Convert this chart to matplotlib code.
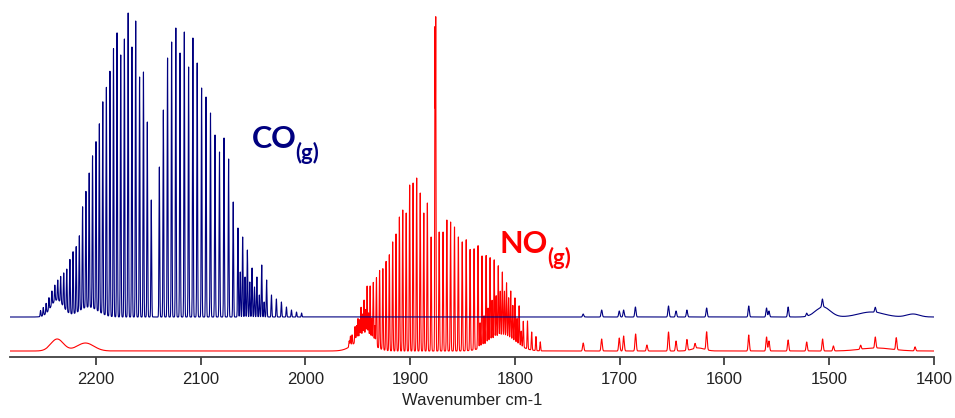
import matplotlib
matplotlib.use("Agg")
import matplotlib.pyplot as plt
import numpy as np

# ---- data (wavenumber cm-1, height above trace baseline) ----
CO_BASE = 40.0
NO_BASE = 6.0

co_r_pos = [2147.1, 2150.9, 2154.6, 2158.3, 2162.0, 2165.6, 2169.2, 2172.8, 2176.3,
            2179.8, 2183.2, 2186.6, 2190.0, 2193.4, 2196.7, 2199.9, 2203.2, 2206.4,
            2209.5, 2212.7, 2215.8, 2218.8, 2221.8, 2224.8, 2227.8, 2230.7, 2233.6,
            2236.4, 2239.2, 2242.0, 2244.8, 2247.5, 2250.2, 2252.8]
co_r_h = [117, 195, 245, 240, 296, 270, 304, 278, 262,
          284, 268, 245, 228, 212, 188, 168, 152, 134,
          116, 102, 75, 66, 62, 54, 42, 34, 26,
          20, 16, 14, 12, 10, 8, 6]

co_p_pos = [2139.4, 2135.6, 2131.6, 2127.7, 2123.7, 2119.7, 2115.6, 2111.5, 2107.4,
            2103.3, 2099.1, 2094.9, 2090.6, 2086.3, 2082.0, 2077.7, 2073.3, 2068.9,
            2064.4, 2059.9, 2055.4, 2050.9, 2046.3, 2041.7, 2037.0, 2032.4, 2027.7,
            2022.9, 2018.1, 2013.3, 2008.5, 2003.6]
co_p_h = [150, 207, 259, 275, 289, 264, 285, 250, 279,
          254, 229, 220, 204, 182, 165, 179, 158, 115,
          89, 80, 67, 49, 40, 52, 37, 22, 18,
          15, 10, 7, 5, 4]

co_hot_pos = [2062.2, 2057.6, 2053.1, 2048.6, 2044.0, 2039.4]
co_hot_h = [45, 40, 35, 30, 22, 15]

# broad background humps (centre, height, width)
co_hump_pos = [2237.0, 2207.0, 1506.0, 1460.0, 1420.0]
co_hump_h = [17, 10, 10, 5, 3]
co_hump_w = [6, 9, 7, 12, 6]

co_small_pos = [1734.8, 1717.2, 1700.4, 1696.2, 1685.0, 1653.4, 1646.2, 1635.8,
                1617.0, 1576.8, 1559.8, 1557.5, 1539.2, 1521.5, 1506.5, 1456.0]
co_small_h = [3, 7, 6, 7, 10, 11, 6, 7, 9, 11, 9, 6, 10, 3, 8, 5]

no_q_pos = [1876.3, 1875.6]
no_q_h = [318, 328]

no_r_pos = [1880.0, 1883.6, 1887.0, 1890.4, 1893.8, 1897.2, 1900.5, 1903.8, 1907.1,
            1910.3, 1913.5, 1916.7, 1919.9, 1923.0, 1926.1, 1929.2, 1932.2, 1935.2,
            1938.2, 1941.1, 1944.0, 1946.9, 1949.8, 1952.6, 1955.4, 1958.2]
no_r_h = [114, 148, 138, 158, 173, 168, 166, 138, 141,
          134, 117, 109, 96, 89, 81, 78, 69, 62,
          56, 54, 39, 32, 22, 16, 10, 6]

no_p_pos = [1872.3, 1868.6, 1865.0, 1861.4, 1857.7, 1854.0, 1850.3, 1846.5, 1842.8,
            1839.0, 1835.2, 1831.4, 1827.5, 1823.7, 1819.8, 1815.9, 1812.0, 1808.0,
            1804.0, 1800.0, 1796.0, 1792.0, 1788.0, 1784.0, 1779.9, 1775.8]
no_p_h = [119, 119, 131, 129, 124, 114, 109, 111, 101,
          101, 103, 91, 89, 84, 79, 71, 64, 54,
          48, 44, 39, 26, 28, 18, 14, 9]

no_hot_pos = [1833.3, 1829.5, 1825.6, 1821.8, 1817.9, 1814.0, 1810.0, 1806.0, 1802.0,
              1798.0, 1794.0, 1957.0, 1951.2, 1948.3, 1945.4, 1942.5, 1939.7, 1936.7, 1933.7]
no_hot_h = [25, 30, 35, 40, 42, 45, 45, 40, 35,
            25, 15, 10, 16, 20, 25, 30, 28, 25, 20]

no_hump_pos = [2237.0, 2210.0, 1945.0, 1812.0, 1625.0, 1455.0]
no_hump_h = [12, 8, 12, 15, 3, 3]
no_hump_w = [6, 8, 9, 12, 6, 15]

no_small_pos = [1734.8, 1717.2, 1700.4, 1696.2, 1684.8, 1674.0, 1653.4, 1646.2, 1635.8,
                1628.0, 1617.0, 1576.8, 1559.8, 1557.5, 1539.2, 1521.5, 1506.3, 1496.0,
                1470.0, 1456.0, 1436.0, 1418.0]
no_small_h = [8, 12, 13, 15, 17, 6, 19, 10, 11,
              5, 18, 16, 14, 10, 11, 9, 12, 5,
              4, 11, 12, 4]

xticks = [2200, 2100, 2000, 1900, 1800, 1700, 1600, 1500, 1400]


def peaks(x, pos, h, w):
    """Sum of gaussian bands; w may be a scalar or one width per band."""
    pos = np.asarray(pos, float)[:, None]
    h = np.asarray(h, float)[:, None]
    w = np.broadcast_to(np.asarray(w, float), pos.shape[:1])[:, None]
    return (h * np.exp(-0.5 * ((x - pos) / w) ** 2)).sum(axis=0)


wn = np.arange(1400.0, 2282.0, 0.05)

co = (CO_BASE
      + peaks(wn, co_r_pos + co_p_pos, co_r_h + co_p_h, 0.35)
      + peaks(wn, co_hot_pos, co_hot_h, 0.35)
      + peaks(wn, co_small_pos, co_small_h, 0.6)
      + peaks(wn, co_hump_pos, co_hump_h, co_hump_w))

no = (NO_BASE
      + peaks(wn, no_q_pos, no_q_h, 0.25)
      + peaks(wn, no_r_pos + no_p_pos, no_r_h + no_p_h, 0.35)
      + peaks(wn, no_hot_pos, no_hot_h, 0.35)
      + peaks(wn, no_small_pos, no_small_h, 0.6)
      + peaks(wn, no_hump_pos, no_hump_h, no_hump_w))

fig = plt.figure(figsize=(9.55, 4.18), dpi=100)
ax = fig.add_axes([10 / 955, 61 / 418, 924 / 955, 357 / 418])

ax.plot(wn, no, color="#ff0000", lw=0.8, zorder=2)
ax.plot(wn, co, color="#000080", lw=0.8, zorder=3)

ax.set_xlim(2282, 1400)
ax.set_ylim(0, 357)

for side in ("left", "right", "top"):
    ax.spines[side].set_visible(False)
ax.spines["bottom"].set_color("#404040")
ax.spines["bottom"].set_linewidth(1.3)
ax.set_yticks([])
ax.set_xticks(xticks)
ax.tick_params(axis="x", direction="out", length=6, width=1.3, color="#404040",
               labelsize=12, labelcolor="#222222", pad=5)
for lab in ax.get_xticklabels():
    lab.set_family("Liberation Sans")
ax.set_xlabel("Wavenumber cm-1", fontsize=12, family="Liberation Sans",
              color="#222222", labelpad=4)

co_txt = ax.text(2051.1, 209, "CO", color="#000080", fontsize=22,
                 family="Lato", weight="bold", va="baseline", ha="left")
ax.annotate("(g)", xy=(1, 0), xycoords=co_txt, xytext=(-1, -8),
            textcoords="offset points", color="#000080", fontsize=16,
            family="Lato", weight="bold", va="bottom", ha="left")

no_txt = ax.text(1814.3, 104, "NO", color="#ff0000", fontsize=22,
                 family="Lato", weight="bold", va="baseline", ha="left")
ax.annotate("(g)", xy=(1, 0), xycoords=no_txt, xytext=(-1, -8),
            textcoords="offset points", color="#ff0000", fontsize=16,
            family="Lato", weight="bold", va="bottom", ha="left")

fig.savefig("out.png", dpi=100)
